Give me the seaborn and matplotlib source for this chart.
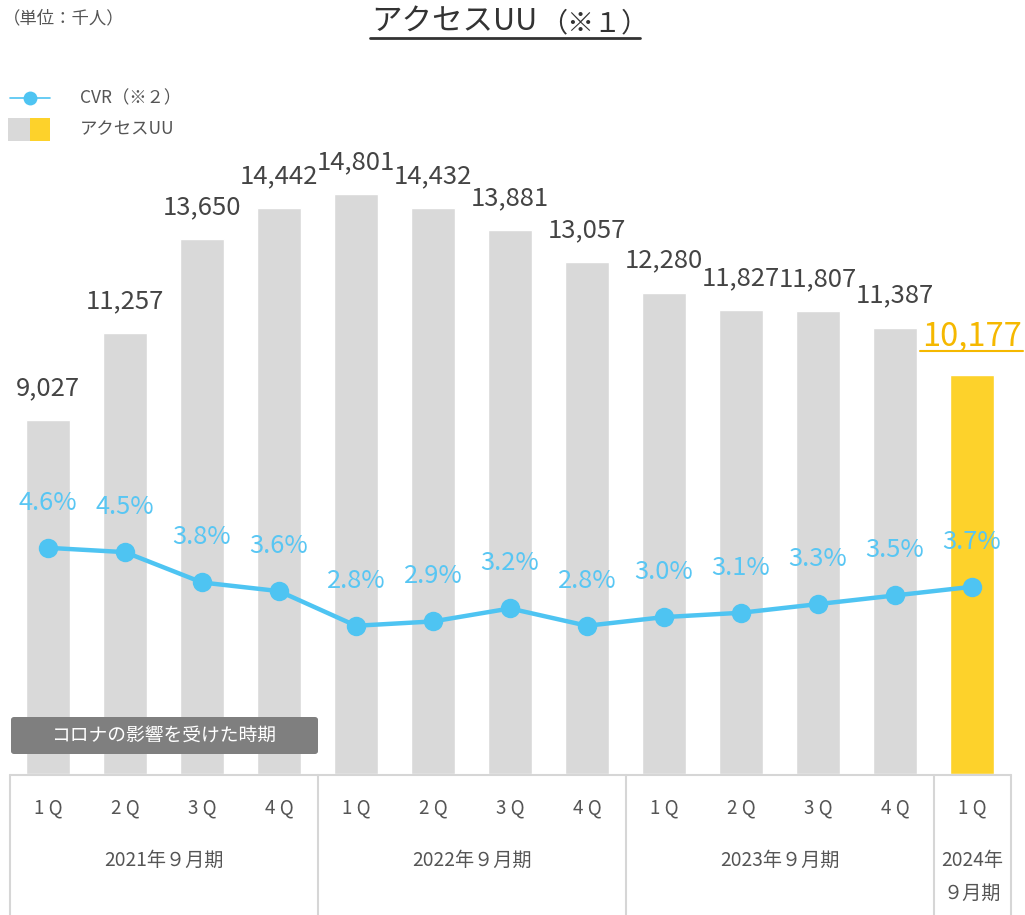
import numpy as np
import pandas as pd
import matplotlib
matplotlib.use("Agg")
import matplotlib.pyplot as plt
import seaborn as sns
from matplotlib.lines import Line2D
from matplotlib.patches import Rectangle, FancyBboxPatch
from matplotlib.transforms import blended_transform_factory

# data
quarters = ["1Q", "2Q", "3Q", "4Q", "1Q", "2Q", "3Q", "4Q", "1Q", "2Q", "3Q", "4Q", "1Q"]
periods = ["2021年９月期", "2022年９月期", "2023年９月期", "2024年\n９月期"]
period_sizes = [4, 4, 4, 1]
access_uu = [9027, 11257, 13650, 14442, 14801, 14432, 13881, 13057, 12280, 11827, 11807, 11387, 10177]
cvr = [4.6, 4.5, 3.8, 3.6, 2.8, 2.9, 3.2, 2.8, 3.0, 3.1, 3.3, 3.5, 3.7]

GRAY = "#D9D9D9"
GOLD = "#FDD22B"
GOLD_TXT = "#F5B800"
BLUE = "#4EC4F2"
TXT = "#444444"

sns.set_theme(style="white")
plt.rcParams["font.family"] = ["Noto Sans CJK JP", "DejaVu Sans"]

W, H = 1025, 915
fig = plt.figure(figsize=(W / 100, H / 100), dpi=100)

def fx(x):
    return x / W

def fy(y):
    return 1 - y / H

ax = fig.add_axes([fx(9.5), fy(774), 1001 / W, 624 / H])

df = pd.DataFrame({"pos": [f"{i}" for i in range(len(access_uu))], "uu": access_uu})
colors = [GRAY] * (len(access_uu) - 1) + [GOLD]
sns.barplot(data=df, x="pos", y="uu", hue="pos", palette=colors, width=0.56,
            legend=False, ax=ax, saturation=1)
ax.set_xlim(-0.5, len(access_uu) - 0.5)
ax.set_ylim(0, 624 / 0.03919)
ax.set_axis_off()

for i, v in enumerate(access_uu):
    last = i == len(access_uu) - 1
    ax.annotate(f"{v:,}", (i, v), xytext=(0, 38 if last else 32), textcoords="offset pixels",
                ha="center", va="center", fontsize=23.5 if last else 18.5,
                color=GOLD_TXT if last else TXT)

# underline for the latest value
fig.add_artist(Line2D([fx(920), fx(1023)], [fy(351), fy(351)], color=GOLD_TXT, lw=1.5))

# CVR line
ax2 = ax.twinx()
ax2.set_position(ax.get_position())
sns.lineplot(x=np.arange(len(cvr)), y=cvr, ax=ax2, color=BLUE, lw=3.2,
             marker="o", markersize=14, markeredgewidth=0, markerfacecolor=BLUE)
ax2.set_xlim(-0.5, len(cvr) - 0.5)
ax2.set_ylim(-27 / 43.3, 597 / 43.3)
ax2.set_axis_off()
for i, v in enumerate(cvr):
    ax2.annotate(f"{v:.1f}%", (i, v), xytext=(0, 45), textcoords="offset pixels",
                 ha="center", va="center", fontsize=18.3, color="#58C6F3")

# table under the chart
tr = blended_transform_factory(ax.transData, fig.transFigure)
line_kw = dict(color="#D6D6D6", lw=1.5)
fig.add_artist(Line2D([fx(9.5), fx(1010.5)], [fy(775), fy(775)], **line_kw))
edges = np.cumsum([0] + period_sizes) - 0.5
for e in edges:
    ax.add_artist(Line2D([e, e], [fy(775), fy(915)], transform=tr, clip_on=False, **line_kw))
for i, q in enumerate(quarters):
    ax.text(i, fy(808), q[0] + " " + q[1], transform=tr, ha="center", va="center",
            fontsize=13.5, color="#555555")
for k, p in enumerate(periods):
    mid = (edges[k] + edges[k + 1]) / 2
    lines = p.split("\n")
    for j, s in enumerate(lines):
        ax.text(mid, fy(860 + 33 * j), s, transform=tr, ha="center", va="center",
                fontsize=13.8, color="#555555")

# corona period box
box = FancyBboxPatch((fx(11), fy(754)), fx(318) - fx(11), fy(717) - fy(754),
                     boxstyle="round,pad=0,rounding_size=0.003", transform=fig.transFigure,
                     facecolor="#7F7F7F", edgecolor="none")
fig.add_artist(box)
fig.text(fx(164), fy(736), "コロナの影響を受けた時期", ha="center", va="center",
         fontsize=13.5, color="white")

# title and unit
fig.text(fx(537), fy(21), "アクセスUU", ha="right", va="center", fontsize=22, color="#333333")
fig.text(fx(540), fy(24), "（※１）", ha="left", va="center", fontsize=19.5, color="#333333")
fig.add_artist(Line2D([fx(370), fx(640)], [fy(38), fy(38)], color="#333333", lw=2))
fig.text(fx(3), fy(18), "（単位：千人）", ha="left", va="center", fontsize=12.5, color="#555555")

# legend
fig.add_artist(Line2D([fx(10), fx(50)], [fy(98), fy(98)], color=BLUE, lw=1.2))
fig.add_artist(Line2D([fx(30)], [fy(98)], color=BLUE, marker="o", markersize=10, markeredgewidth=0))
fig.text(fx(80), fy(98), "CVR（※２）", ha="left", va="center", fontsize=12.5, color="#555555")
fig.add_artist(Rectangle((fx(8), fy(141)), fx(22), fy(118) - fy(141), transform=fig.transFigure,
                         facecolor=GRAY, edgecolor="none"))
fig.add_artist(Rectangle((fx(30), fy(141)), fx(20), fy(118) - fy(141), transform=fig.transFigure,
                         facecolor=GOLD, edgecolor="none"))
fig.text(fx(80), fy(129), "アクセスUU", ha="left", va="center", fontsize=12.5, color="#555555")

fig.savefig("out.png", dpi=100)
